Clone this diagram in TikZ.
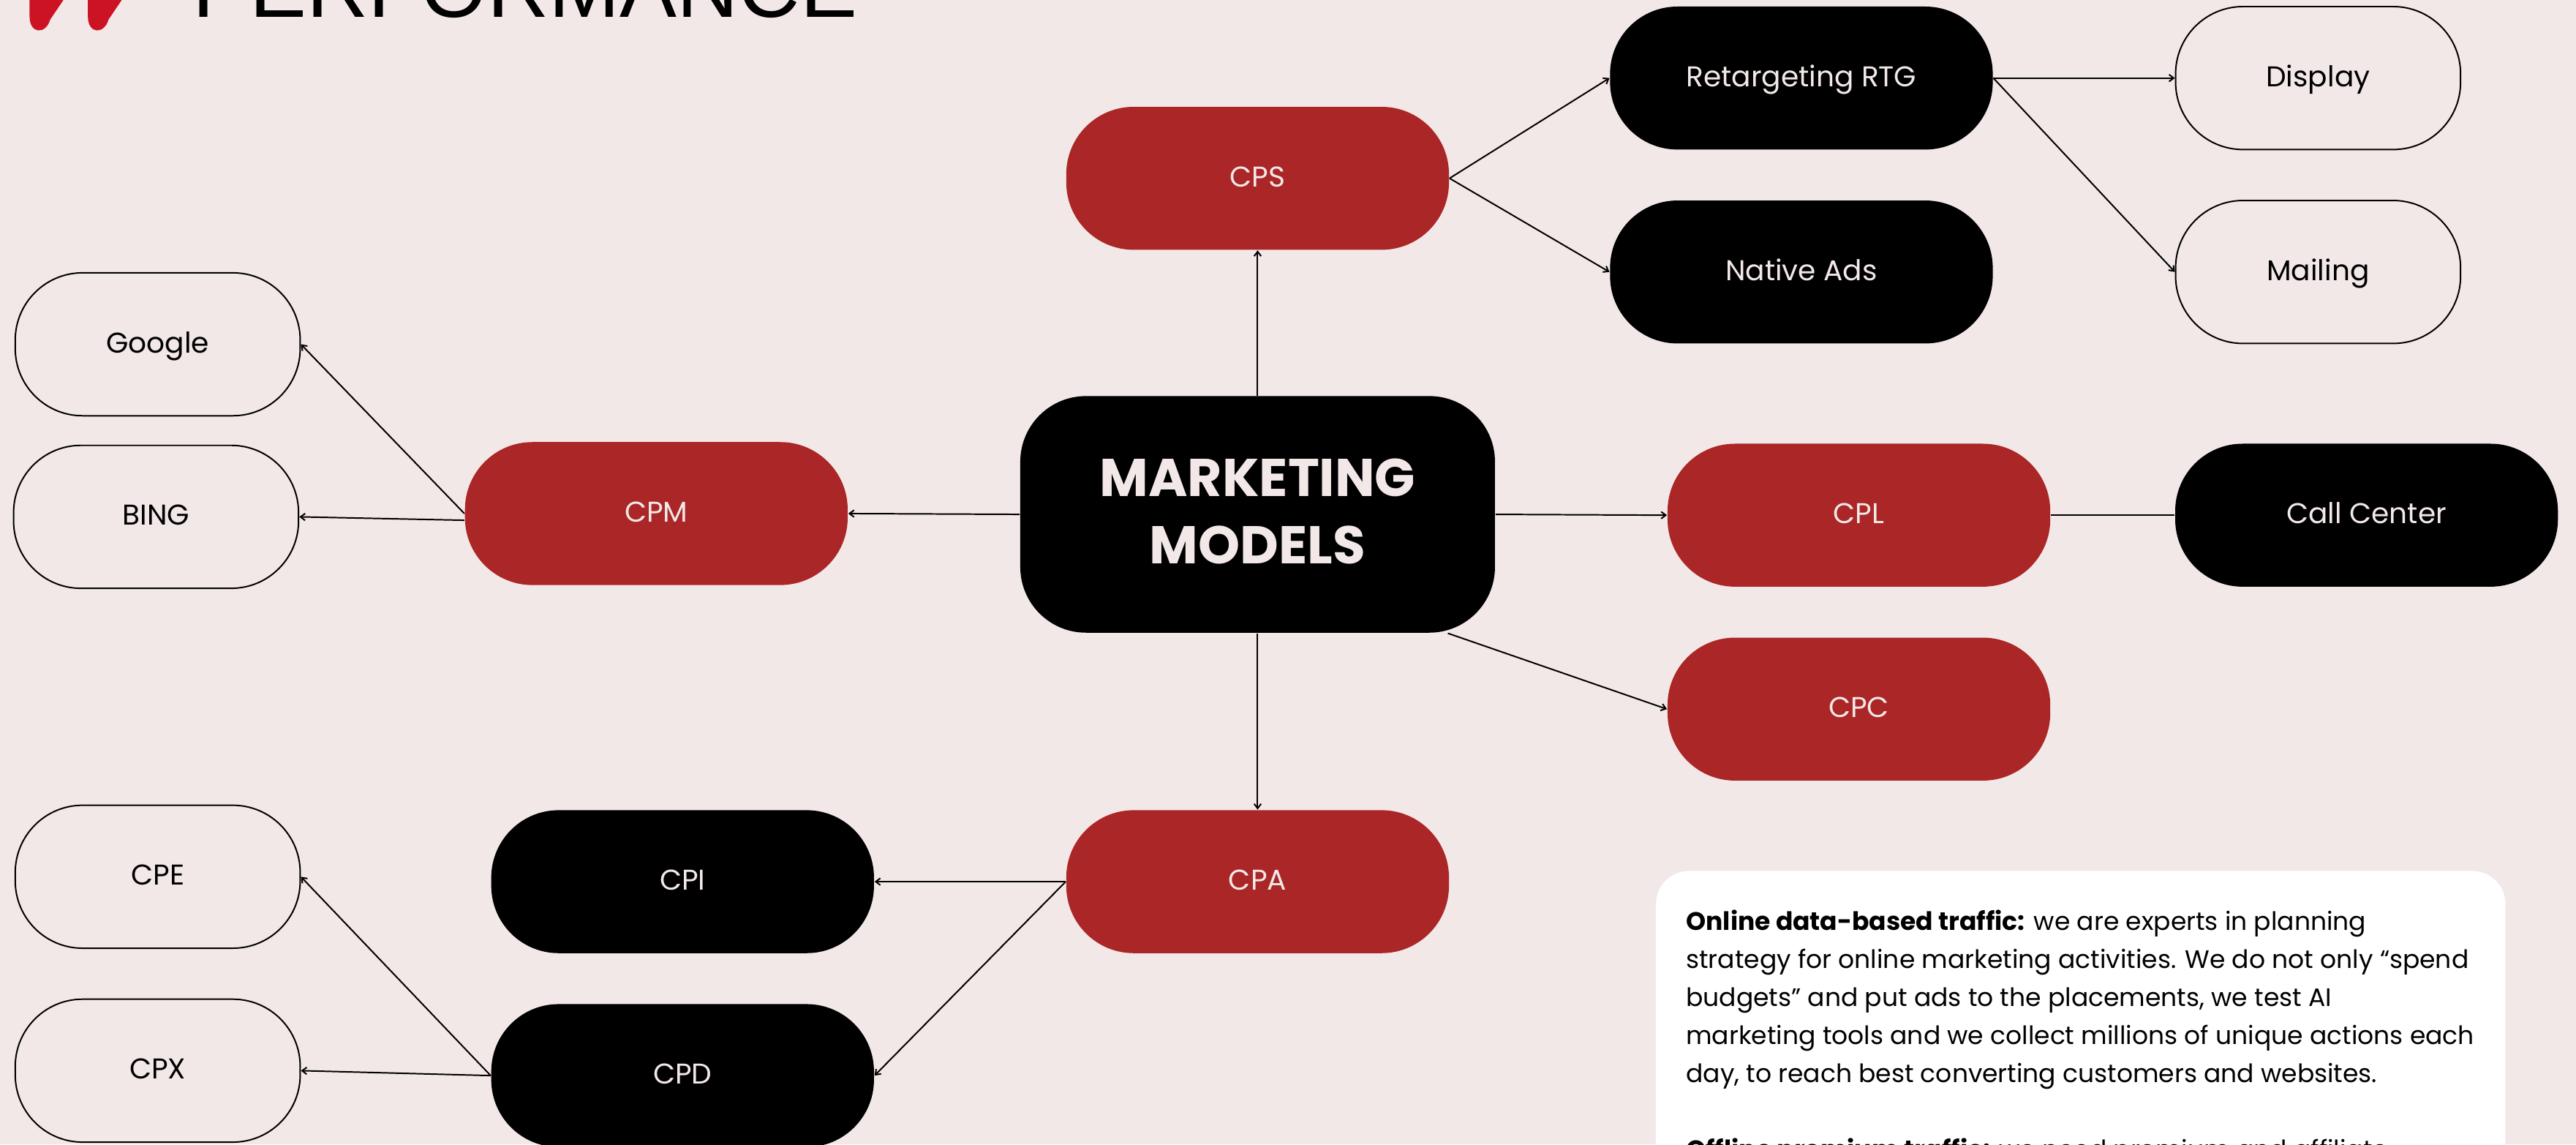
\documentclass[tikz,border=0pt]{standalone}
\usepackage{fontspec}
\setmainfont{Poppins}
\newfontfamily\titlefont{Liberation Sans}
\usetikzlibrary{arrows.meta}
\definecolor{paper}{HTML}{F3E8E8}
\definecolor{brick}{HTML}{AB2626}
\definecolor{logored}{HTML}{CB1323}
\tikzset{
    pill/.style={rectangle, rounded corners=0.82cm, minimum width=4.66cm, minimum height=1.74cm, inner sep=0pt, text height=7.8pt, text depth=2pt, font=\fontsize{9.9}{12}\selectfont},
    redpill/.style={pill, fill=brick, text=paper},
    blackpill/.style={pill, fill=black, text=paper},
    outline/.style={pill, draw=black, line width=0.5pt, minimum width=3.47cm, text=black},
    link/.style={draw=black, line width=0.5pt, -{Straight Barb[length=1.6pt,width=2.4pt]}},
}
\begin{document}
\begin{tikzpicture}[x=0.02cm, y=-0.02cm]
    \useasboundingbox (0,0) rectangle (1568,696.3);
    \clip (0,0) rectangle (1568,696.3);
    \fill [paper] (0,0) rectangle (1568,696.3);
    % logo and heading
    \foreach \x in {18,53.5}
        \fill [logored] (\x,-5) -- (\x,10) .. controls (\x,21) and (\x+10,21) .. (\x+12.5,12) -- (\x+24,-5) -- cycle;
    \node [anchor=base west, inner sep=0pt, font=\titlefont\fontsize{29.6}{30}\selectfont] (title) at (117,10.3) {PERFORMANCE};
    % text panel
    \fill [white, rounded corners=0.4cm] (1008,530) rectangle (1525,720);
    \node [anchor=north west, inner sep=0pt, align=left, font=\fontsize{8.75}{13.15}\selectfont] (panel) at (1026,553.5) {\textbf{Online data-based traffic:} we are experts in planning\\
        strategy for online marketing activities. We do not only “spend\\
        budgets” and put ads to the placements, we test AI\\
        marketing tools and we collect millions of unique actions each\\
        day, to reach best converting customers and websites.\\[13.15pt]
        \textbf{Offline premium traffic:} we need premium and affiliate};
    % centre
    \node [rectangle, rounded corners=0.8cm, fill=black, text=paper, minimum width=5.78cm, minimum height=2.88cm, align=center, text depth=2.3pt, font=\bfseries\fontsize{18.4}{23.3}\selectfont] (models) at (765.5,313) {MARKETING\\MODELS};
    % red
    \foreach \name/\x/\y/\txt in {cps/765.5/108.5/CPS, cpm/399.5/312.5/CPM, cpl/1131.5/313.5/CPL, cpc/1131.5/431.5/CPC, cpa/765.5/536.5/CPA}
        \node [redpill] (\name) at (\x,\y) {\txt};
    % black
    \foreach \name/\x/\y/\txt in {rtg/1096.5/47.5/Retargeting RTG, native/1096.5/165.5/Native Ads, call/1440.5/313.5/Call Center, cpi/415.5/536.5/CPI, cpd/415.5/654.5/CPD}
        \node [blackpill] (\name) at (\x,\y) {\txt};
    % outlined
    \foreach \name/\x/\y/\txt in {display/1411/47.5/Display, mailing/1411/165.5/Mailing, google/96/209.5/Google, bing/95/314.5/BING, cpe/96/533.5/CPE, cpx/96/651.5/CPX}
        \node [outline] (\name) at (\x,\y) {\txt};
    % links
    \draw [link] (models.north) -- (cps.south);
    \draw [link] (models.west) -- (cpm.east);
    \draw [link] (models.east) -- (cpl.west);
    \draw [link] (models.-32.5) -- (cpc.west);
    \draw [link] (models.south) -- (cpa.north);
    \draw [link] (cps.east) -- (rtg.west);
    \draw [link] (cps.east) -- (native.west);
    \draw [link] (rtg.east) -- (display.west);
    \draw [link] (rtg.east) -- (mailing.west);
    \draw [draw=black, line width=0.5pt] (cpl.east) -- (call.west);
    \draw [link] (cpm.west) -- (google.east);
    \draw [link] (cpm.-178.3) -- (bing.east);
    \draw [link] (cpa.west) -- (cpi.east);
    \draw [link] (cpa.west) -- (cpd.east);
    \draw [link] (cpd.west) -- (cpe.east);
    \draw [link] (cpd.west) -- (cpx.east);
\end{tikzpicture}
\end{document}
